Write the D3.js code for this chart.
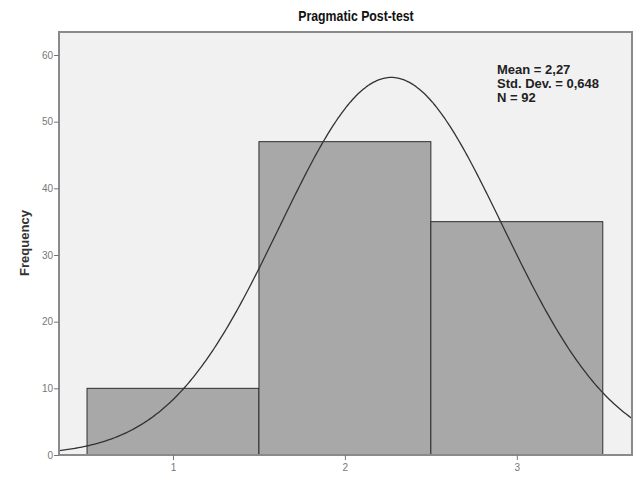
<!DOCTYPE html>
<html>
<head>
<meta charset="utf-8">
<script src="https://cdn.jsdelivr.net/npm/d3@7"></script>
<style>
  body { margin: 0; background: #fff; }
  svg { display: block; }
</style>
</head>
<body>
<svg width="640" height="483"></svg>
<script>
// histogram data
var categories = [1, 2, 3];
var frequencies = [10, 47, 35];
var yTicks = [0, 10, 20, 30, 40, 50, 60];
var stats = ["Mean = 2,27", "Std. Dev. = 0,648", "N = 92"];
var mean = 2.27, sd = 0.648, n = 92;

var svg = d3.select("svg"),
    margin = {left: 59, right: 8, top: 32, bottom: 28},
    width = +svg.attr("width") - margin.left - margin.right,
    height = +svg.attr("height") - margin.top - margin.bottom;

var x = d3.scaleLinear().domain([0.337, 3.67]).range([0, width]);
var y = d3.scaleLinear().domain([0, 63.45]).range([height, 0]);

var g = svg.append("g").attr("transform", "translate(" + margin.left + "," + margin.top + ")");

// plot background
g.append("rect")
    .attr("width", width).attr("height", height)
    .attr("fill", "#f1f1f1");

g.append("defs").append("clipPath").attr("id", "clip")
  .append("rect").attr("width", width).attr("height", height);

// bars
g.selectAll(".bar")
    .data(categories)
    .enter().append("rect")
    .attr("class", "bar")
    .attr("x", function (d) { return x(d - 0.5); })
    .attr("width", function (d) { return x(d + 0.5) - x(d - 0.5); })
    .attr("y", function (d, i) { return y(frequencies[i]); })
    .attr("height", function (d, i) { return y(0) - y(frequencies[i]); })
    .attr("fill", "#a8a8a8")
    .attr("stroke", "#2e2e2e")
    .attr("stroke-width", 1);

// normal curve from the stated mean / sd
var xs = d3.range(0.3, 3.71, 0.01);
var curve = d3.line()
    .x(function (v) { return x(v); })
    .y(function (v) {
        var z = (v - mean) / sd;
        return y(n / (sd * Math.sqrt(2 * Math.PI)) * Math.exp(-0.5 * z * z));
    })
    .curve(d3.curveBasis);

g.append("path")
    .datum(xs)
    .attr("d", curve)
    .attr("clip-path", "url(#clip)")
    .attr("fill", "none")
    .attr("stroke", "#333")
    .attr("stroke-width", 1.3);

// frame
g.append("rect")
    .attr("width", width).attr("height", height)
    .attr("fill", "none")
    .attr("stroke", "#8a8a8a")
    .attr("stroke-width", 2);

// axes
var yAxis = g.append("g")
    .call(d3.axisLeft(y).tickValues(yTicks).tickSize(5).tickPadding(1));
var xAxis = g.append("g")
    .attr("transform", "translate(0," + height + ")")
    .call(d3.axisBottom(x).tickValues(categories).tickFormat(d3.format("d"))
        .tickSize(5).tickPadding(4));

[yAxis, xAxis].forEach(function (a) {
    a.select(".domain").remove();
    a.selectAll("line").attr("stroke", "#777");
    a.selectAll("text")
        .attr("fill", "#777")
        .style("font-family", "'Liberation Sans', Arial, sans-serif")
        .style("font-size", "10px");
});

// title (condensed bold look)
svg.append("text")
    .attr("transform", "translate(356,21) scale(0.82,1)")
    .attr("text-anchor", "middle")
    .style("font-family", "'Liberation Sans Narrow', 'Arial Narrow', 'Liberation Sans', sans-serif")
    .style("font-weight", "bold")
    .style("font-size", "15px")
    .attr("fill", "#111")
    .text("Pragmatic Post-test");

// y label
svg.append("text")
    .attr("transform", "translate(29,243) rotate(-90)")
    .attr("text-anchor", "middle")
    .style("font-family", "'Liberation Sans', Arial, sans-serif")
    .style("font-weight", "bold")
    .style("font-size", "13px")
    .attr("fill", "#333")
    .text("Frequency");

// stats box
svg.append("g").selectAll("text")
    .data(stats)
    .enter().append("text")
    .attr("x", 497)
    .attr("y", function (d, i) { return 74 + i * 14; })
    .style("font-family", "'Liberation Sans', Arial, sans-serif")
    .style("font-weight", "bold")
    .style("font-size", "13px")
    .attr("fill", "#222")
    .text(function (d) { return d; });
</script>
</body>
</html>
